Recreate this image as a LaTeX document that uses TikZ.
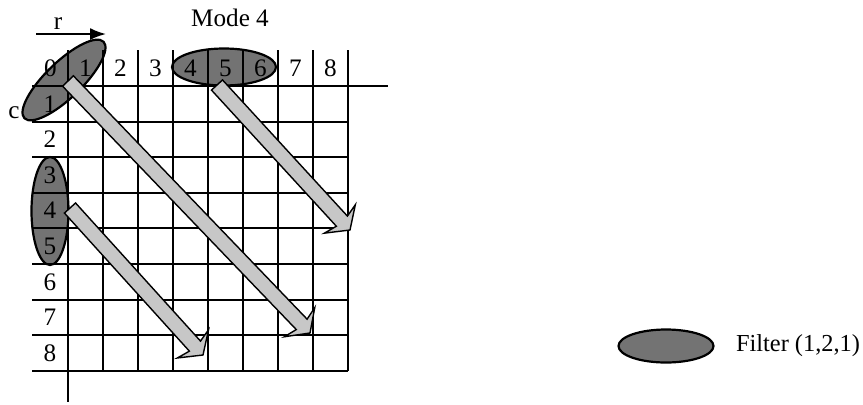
\documentclass[tikz,border=0pt]{standalone}
\usepackage{fontspec}
\setmainfont{Liberation Serif}
\usetikzlibrary{positioning,arrows.meta,shapes.geometric,calc}

% wide hollow arrow from #1 to #2
\newcommand{\fatarrow}[2]{%
  \coordinate (#2-h) at ($(#2)!6pt!(#1)$);
  \coordinate (#2-b) at ($(#2)!7.5pt!(#1)$);
  \filldraw[shaft]
    ($(#1)!3.75pt!90:(#2)$) -- ($(#2-h)!3.75pt!-90:(#1)$) -- ($(#2-b)!10.5pt!-90:(#1)$)
    -- (#2) -- ($(#2-b)!10.5pt!90:(#1)$) -- ($(#2-h)!3.75pt!90:(#1)$)
    -- ($(#1)!3.75pt!-90:(#2)$) -- cycle;
}

\begin{document}
\begin{tikzpicture}[
  x=0.5pt,y=-0.5pt,
  grid/.style={line width=1pt},
  num/.style={inner sep=0pt,font=\fontsize{12.6}{15}\selectfont},
  filt/.style={ellipse,draw,line width=1.1pt,fill=black!55,inner sep=0pt},
  shaft/.style={fill=black!22,draw=black,line width=0.7pt,line join=miter},
  arr/.style={-{Latex[length=8pt,width=6pt]},line width=0.9pt}
]
\useasboundingbox (0,0) rectangle (863,404);

% filters
\node[filt,minimum width=55pt,minimum height=18pt,rotate=44] (e1) at (64,80) {};
\node[filt,minimum width=52pt,minimum height=18.5pt] (e2) at (224,67) {};
\node[filt,minimum width=18.5pt,minimum height=54pt] (e3) at (50,211) {};

% grid
\draw[grid] (68,50) -- (68,402);
\draw[grid] (32,86) -- (388,86);
\foreach \k in {1,...,8}
  \draw[grid] ({68+35*\k},50) -- ({68+35*\k},371);
\foreach \j in {1,...,8}
  \draw[grid] (32,{86+35.6*\j}) -- (348,{86+35.6*\j});

% indices
\foreach \k in {0,...,8}
  \node[num] (col\k) at ({50.5+35*\k},68) {\k};
\foreach \j in {1,...,8}
  \node[num] (row\j) at (50,{86+35.6*(\j-0.5)}) {\j};

\node[num] (title) at (230,18) {Mode 4};
\node[num] (rlab) at (58,24) {r};
\node[num] (clab) at (14,113) {c};
\coordinate (r0) at (36,34);
\coordinate (r1) at (106,34);
\draw[arr] (r0) -- (r1);

% diagonal sweeps
\coordinate (a1) at (68,81);
\coordinate (b1) at (310,333);
\coordinate (a2) at (217,85);
\coordinate (b2) at (350,230);
\coordinate (a3) at (70,208);
\coordinate (b3) at (203,355);
\fatarrow{a1}{b1}
\fatarrow{a2}{b2}
\fatarrow{a3}{b3}

% legend
\node[filt,minimum width=47.5pt,minimum height=16.5pt] (leg) at (666,346) {};
\node[num,font=\fontsize{12.2}{15}\selectfont,right=10.5pt of leg] (legtxt) {Filter (1,2,1)};
\end{tikzpicture}
\end{document}
